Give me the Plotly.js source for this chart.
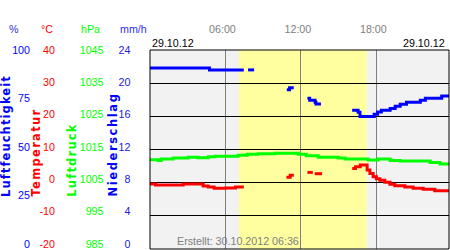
<!DOCTYPE html>
<html>
<head>
<meta charset="utf-8">
<script src="https://cdn.plot.ly/plotly-3.0.1.min.js"></script>
<style>html,body{margin:0;padding:0;background:#fff;}#chart{width:450px;height:250px;}</style>
</head>
<body>
<div id="chart"></div>
<script>
// ---- data (hours of day 29.10.12) ----
var humTime = [0, 4.73, 7.46, 7.6, 7.8, 8.28, 8.5, 10.88, 11.1, 11.43, 11.6, 12.52, 12.7, 13.13, 13.2, 13.6, 13.8,
  16.08, 16.55, 16.7, 17.83, 18.1, 18.4, 19.1, 19.5, 19.9, 20.4, 21.5, 21.9, 23.2, 23.78];
var humValue = [91, 90, 90, null, 90, 90, null, 80, 81, 81, null, 75.7, 74.7, 73.7, 72.9, 72.9, null,
  69.7, 68.7, 66.6, 67.7, 68.8, 69.7, 70.6, 71.7, 72.7, 73.7, 74.7, 75.7, 76.9, 76.9];

var tempTime = [0, 0.44, 2.64, 4.23, 4.63, 5.1, 6.0, 6.8, 7.46, 7.6, 10.85, 11.15, 11.44, 11.6,
  12.52, 12.95, 13.0, 13.1, 13.69, 13.8, 16.08, 16.34, 16.72, 17.27, 17.49, 17.75, 18.01, 18.28,
  18.68, 19.08, 19.47, 20.27, 20.93, 21.73, 22.65, 23.78];
var tempValue = [-0.4, -0.7, -0.4, -1.0, -1.3, -1.7, -1.6, -1.3, -1.3, null, 1.6, 2.2, 2.2, null,
  3.1, 3.1, null, 2.7, 2.7, null, 4.3, 4.8, 5.3, 3.8, 2.8, 1.8, 1.2, 0.7,
  0.1, -0.5, -0.9, -1.3, -1.7, -2.0, -2.4, -2.4];

var presTime = [0, 0.65, 0.89, 1.84, 3.04, 3.83, 4.63, 5.18, 7.01, 7.73, 8.6, 9.96, 11.79, 12.43,
  13.38, 14.97, 15.52, 17.35, 18.15, 19.1, 19.9, 22.28, 23.07, 23.78];
var presValue = [1011.9, 1011.7, 1012.1, 1012.4, 1012.7, 1012.5, 1012.8, 1013.0, 1013.3, 1013.6, 1013.7, 1013.9, 1013.6, 1013.1,
  1012.7, 1012.4, 1012.1, 1011.8, 1012.1, 1011.7, 1011.5, 1011.1, 1010.6, 1010.6];

var precipTime = [];
var precipValue = [];

var dayStart = 7.07, dayEnd = 17.24;

var humTicks = [0, 25, 50, 75, 100];
var tempTicks = [-20, -10, 0, 10, 20, 30, 40];
var presTicks = [985, 995, 1005, 1015, 1025, 1035, 1045];
var precipTicks = [0, 4, 8, 12, 16, 20, 24];
var timeTicks = [6, 12, 18];
var timeLabels = ['06:00', '12:00', '18:00'];
var dateLabel = '29.10.12';
var createdLabel = 'Erstellt: 30.10.2012 06:36';

// ---- styling ----
var W = 450, H = 250, PT = 50, PB = 1;
var plotH = H - PT - PB;
function py(p) { return (H - PB - p) / plotH; }  // pixel y -> paper y
function px(p) { return p / W; }
var FONT = 'Liberation Sans, Arial, sans-serif';
var TFONT = 'DejaVu Sans, Verdana, sans-serif';
var FS = 10.7;
var BLUE = '#0000ff', RED = '#ff0000', GREEN = '#00ff00', BLUE2 = '#2020e0';
var drop = 5 / 194; // label scale offset of original chart
function lblRange(t) { var lo = t[0], hi = t[t.length - 1]; return [lo - (hi - lo) * drop, hi]; }
function lblAxis(ticks, pos, color) {
  return {overlaying: 'y', anchor: 'free', position: px(pos), side: 'left',
    range: lblRange(ticks), tickvals: ticks, ticktext: ticks.map(String),
    showgrid: false, zeroline: false, showline: false, ticks: '',
    tickfont: {family: FONT, size: FS, color: color}, fixedrange: true};
}

var traces = [
  {x: presTime, y: presValue, yaxis: 'y3', type: 'scatter', mode: 'lines', line: {color: GREEN, width: 3, shape: 'hv'}, connectgaps: false},
  {x: tempTime, y: tempValue, yaxis: 'y', type: 'scatter', mode: 'lines', line: {color: RED, width: 3, shape: 'hv'}, connectgaps: false},
  {x: humTime, y: humValue, yaxis: 'y2', type: 'scatter', mode: 'lines', line: {color: BLUE, width: 3, shape: 'hv'}, connectgaps: false},
  {x: precipTime, y: precipValue, yaxis: 'y7', type: 'bar', marker: {color: BLUE}},
  {x: [], y: [], yaxis: 'y4', type: 'scatter'},
  {x: [], y: [], yaxis: 'y5', type: 'scatter'},
  {x: [], y: [], yaxis: 'y6', type: 'scatter'}
];

var ann = [];
function txt(x, y, t, color, opts) {
  var a = {xref: 'paper', yref: 'paper', x: x, y: y, text: t, showarrow: false,
    font: {family: FONT, size: FS, color: color}, xanchor: 'center', yanchor: 'middle'};
  for (var k in opts) a[k] = opts[k];
  ann.push(a);
}
// unit headers
txt(px(14), py(28.7), '%', '#3030d0');
txt(px(47), py(28.7), '°C', RED);
txt(px(90), py(28.7), 'hPa', GREEN);
txt(px(133), py(28.7), 'mm/h', '#3030f0');
// dates
txt(px(150), py(43), dateLabel, '#000', {xanchor: 'left'});
txt(px(447), py(43), dateLabel, '#000', {xanchor: 'right'});
// created
txt(px(175), py(240.5), createdLabel, '#808080', {xanchor: 'left'});
// rotated titles
function title(t, xc, color, sp) {
  ann.push({xref: 'paper', yref: 'paper', x: px(xc), y: py(199), textangle: -90, showarrow: false,
    xanchor: 'center', yanchor: 'bottom',
    text: '<span style="letter-spacing:' + sp + 'px">' + t + '</span>',
    font: {family: TFONT, size: 11.5, color: color, weight: 'bold'}});
}
title('Luftfeuchtigkeit', 6, BLUE, 1.1);
title('Temperatur', 35.5, RED, 1.3);
title('Luftdruck', 71.2, GREEN, 1.2);
title('Niederschlag', 112.5, BLUE, 1.6);

var layout = {
  width: W, height: H,
  margin: {l: 0, r: 0, t: PT, b: PB, pad: 0},
  paper_bgcolor: '#ffffff', plot_bgcolor: '#f2f2f2',
  showlegend: false,
  xaxis: {domain: [px(150), px(449)], range: [0, 23.78], side: 'top',
    tickvals: timeTicks, ticktext: timeLabels, ticks: '', ticklabelstandoff: 14, ticklabelshift: -3,
    tickfont: {family: FONT, size: FS, color: '#808080'},
    showgrid: true, gridcolor: '#808080', gridwidth: 1, zeroline: false, showline: false, fixedrange: true},
  yaxis: {range: [tempTicks[0], tempTicks[tempTicks.length - 1]], tickvals: tempTicks, showticklabels: false,
    ticks: '', showgrid: true, gridcolor: '#000000', gridwidth: 1, zeroline: false, showline: false, fixedrange: true},
  yaxis2: {overlaying: 'y', range: [humTicks[0], humTicks[humTicks.length - 1]], visible: false, showgrid: false, zeroline: false},
  yaxis3: {overlaying: 'y', range: [presTicks[0], presTicks[presTicks.length - 1]], visible: false, showgrid: false, zeroline: false},
  yaxis4: lblAxis(humTicks, 30, BLUE),
  yaxis5: lblAxis(tempTicks, 55, RED),
  yaxis6: lblAxis(presTicks, 103.5, GREEN),
  yaxis7: lblAxis(precipTicks, 130.5, BLUE2),
  shapes: [
    {type: 'rect', xref: 'x', yref: 'y domain', x0: dayStart, x1: dayEnd, y0: 0, y1: 1,
      fillcolor: '#ffffa0', line: {width: 0}, layer: 'below'},
    {type: 'rect', xref: 'x domain', yref: 'y domain', x0: 0, x1: 1, y0: 0, y1: 1,
      line: {color: '#000000', width: 1}, fillcolor: 'rgba(0,0,0,0)', layer: 'above'}
  ],
  annotations: ann
};

Plotly.newPlot('chart', traces, layout, {staticPlot: true, displayModeBar: false});
</script>
</body>
</html>
